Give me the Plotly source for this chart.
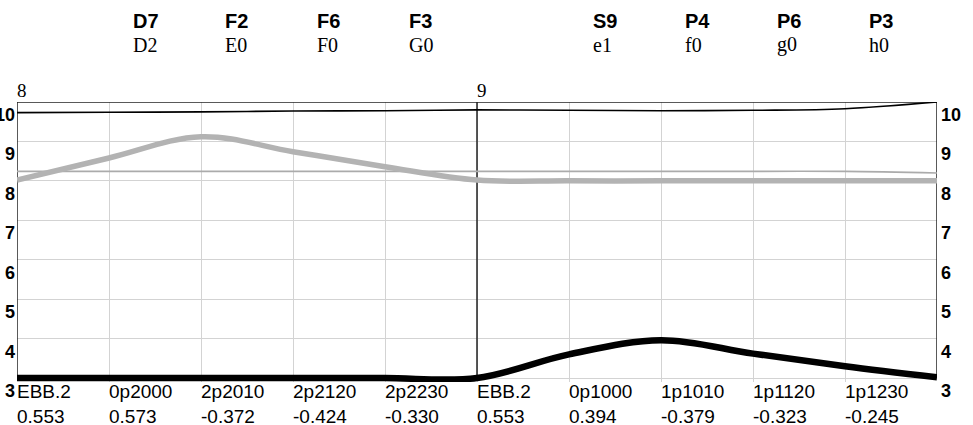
import plotly.graph_objects as go

# ---- data ----
x_pos = [0, 1, 2, 3, 4, 5, 6, 7, 8, 9, 10]
thin_black = [9.73, 9.74, 9.75, 9.77, 9.78, 9.80, 9.79, 9.78, 9.79, 9.83, 10.0]
thin_gray = [8.24, 8.24, 8.24, 8.24, 8.24, 8.24, 8.24, 8.24, 8.24, 8.24, 8.20]
thick_gray = [8.02, 8.58, 9.12, 8.74, 8.36, 8.02, 8.0, 8.0, 8.0, 8.0, 8.0]
thick_black = [3.0, 3.0, 3.0, 3.0, 3.0, 3.0, 3.6, 3.96, 3.62, 3.3, 3.02]

bottom_ticks = [0, 1, 2, 3, 4, 5, 6, 7, 8, 9]
bottom_names = ["EBB.2", "0p2000", "2p2010", "2p2120", "2p2230",
                "EBB.2", "0p1000", "1p1010", "1p1120", "1p1230"]
bottom_values = ["0.553", "0.573", "-0.372", "-0.424", "-0.330",
                 "0.553", "0.394", "-0.379", "-0.323", "-0.245"]

top_ticks = [0, 5]
top_labels = ["8", "9"]

header_pos = [1, 2, 3, 4, 6, 7, 8, 9]
header_bold = ["D7", "F2", "F6", "F3", "S9", "P4", "P6", "P3"]
header_sub = ["D2", "E0", "F0", "G0", "e1", "f0", "g0", "h0"]

y_ticks = [3, 4, 5, 6, 7, 8, 9, 10]

# ---- figure ----
SANS = "Liberation Sans, Arial, sans-serif"
SERIF = "Liberation Serif, Times New Roman, serif"
YR = [2.9, 10]

fig = go.Figure()
fig.add_trace(go.Scatter(x=x_pos, y=thin_gray, mode="lines",
                         line=dict(color="#ababab", width=1.6, shape="spline"),
                         hoverinfo="skip"))
fig.add_trace(go.Scatter(x=x_pos, y=thick_gray, mode="lines",
                         line=dict(color="#b3b3b3", width=5.5, shape="spline"),
                         hoverinfo="skip"))
fig.add_trace(go.Scatter(x=x_pos, y=thin_black, mode="lines",
                         line=dict(color="#000000", width=1.6, shape="spline"),
                         hoverinfo="skip"))
fig.add_trace(go.Scatter(x=x_pos, y=thick_black, mode="lines",
                         line=dict(color="#000000", width=6.5, shape="spline"),
                         hoverinfo="skip"))
# invisible trace for top axis
fig.add_trace(go.Scatter(x=[0, 10], y=[None, None], xaxis="x2", mode="lines",
                         showlegend=False, hoverinfo="skip"))
# invisible trace for right axis
fig.add_trace(go.Scatter(x=[None, None], y=[3, 10], yaxis="y2", mode="lines",
                         showlegend=False, hoverinfo="skip"))

pos3 = (3 - YR[0]) / (YR[1] - YR[0])

fig.update_layout(
    width=973, height=425,
    margin=dict(l=17, r=36, t=102, b=43),
    paper_bgcolor="white", plot_bgcolor="white",
    showlegend=False,
    template="none",
    xaxis=dict(range=[0, 10], tickvals=bottom_ticks,
               ticktext=[f"{n}<br>{v}" for n, v in zip(bottom_names, bottom_values)],
               ticklabelposition="outside right",
               anchor="free", position=pos3,
               showgrid=True, gridcolor="#d3d3d3", gridwidth=1,
               zeroline=False, showline=False, ticks="",
               tickfont=dict(family=SANS, size=19, color="black"),
               automargin=False, fixedrange=True),
    xaxis2=dict(range=[0, 10], overlaying="x", side="top", anchor="y",
                tickvals=top_ticks, ticktext=top_labels,
                ticklabelposition="outside right",
                showgrid=False, zeroline=False, showline=False, ticks="",
                tickfont=dict(family=SERIF, size=19, color="black"),
                automargin=False),
    yaxis=dict(range=YR, tickvals=y_ticks, ticktext=[str(v) for v in y_ticks],
               ticklabelposition="outside bottom", ticklabelstandoff=1,
               showgrid=True, gridcolor="#d3d3d3", gridwidth=1,
               zeroline=False, showline=False, ticks="",
               tickfont=dict(family=SANS, size=18, color="black", weight="bold"),
               automargin=False, fixedrange=True),
    yaxis2=dict(range=YR, overlaying="y", side="right", anchor="x",
                tickvals=y_ticks, ticktext=[str(v) for v in y_ticks],
                ticklabelposition="outside bottom", ticklabelstandoff=3,
                showgrid=False, zeroline=False, showline=False, ticks="",
                tickfont=dict(family=SANS, size=18, color="black", weight="bold"),
                automargin=False),
)

# frame and divider
frame = [
    dict(x0=0, x1=0, y0=3, y1=10),
    dict(x0=10, x1=10, y0=3, y1=10),
    dict(x0=0, x1=10, y0=10, y1=10),
    dict(x0=5, x1=5, y0=3, y1=10),
]
for f in frame:
    fig.add_shape(type="line", xref="x", yref="y", layer="between",
                  line=dict(color="#222222", width=1.5), **f)

# header annotations
for xp, b, s in zip(header_pos, header_bold, header_sub):
    fig.add_annotation(x=xp + 0.24, y=1.29, xref="x", yref="paper",
                       text=f"<b>{b}</b>", showarrow=False, xanchor="left",
                       yanchor="middle",
                       font=dict(family=SANS, size=20, color="black"))
    fig.add_annotation(x=xp + 0.24, y=1.204, xref="x", yref="paper",
                       text=s, showarrow=False, xanchor="left", yanchor="middle",
                       font=dict(family=SERIF, size=20, color="black"))

fig.write_html(
    "out.html",
    config={"staticPlot": True, "displayModeBar": False},
    post_script="document.body.style.margin='0';document.body.style.overflow='hidden';",
)
